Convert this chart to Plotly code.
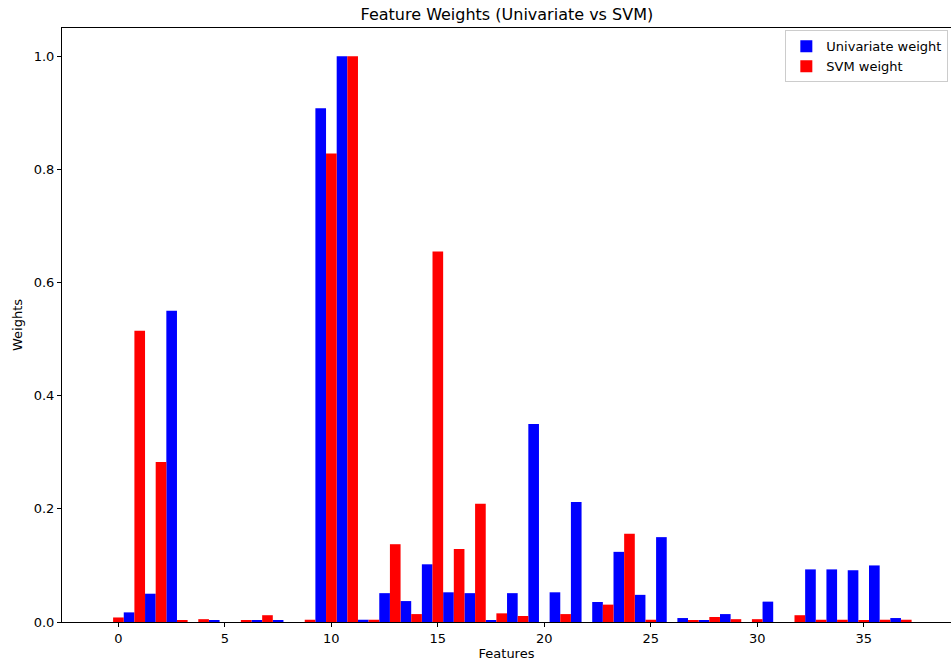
import plotly.graph_objects as go

features = list(range(38))

univariate_weight = [0.0, 0.017, 0.050, 0.550, 0.0, 0.002, 0.0, 0.002, 0.002, 0.0,
                     0.908, 1.0, 0.004, 0.051, 0.037, 0.102, 0.0525, 0.051, 0.002, 0.051,
                     0.350, 0.0525, 0.212, 0.0354, 0.124, 0.048, 0.150, 0.007, 0.002, 0.014,
                     0.0, 0.036, 0.0, 0.093, 0.093, 0.0915, 0.100, 0.007]

svm_weight = [0.008, 0.515, 0.283, 0.002, 0.005, 0.0, 0.002, 0.012, 0.0, 0.004,
              0.828, 1.0, 0.004, 0.1375, 0.014, 0.655, 0.129, 0.209, 0.0153, 0.0106,
              0.0, 0.014, 0.0, 0.0307, 0.156, 0.004, 0.0, 0.002, 0.0088, 0.005,
              0.005, 0.0, 0.012, 0.004, 0.004, 0.002, 0.004, 0.004]

x_ticks = [0, 5, 10, 15, 20, 25, 30, 35]
y_ticks = [0.0, 0.2, 0.4, 0.6, 0.8, 1.0]

FONT = "DejaVu Sans"

fig = go.Figure()
fig.add_trace(go.Bar(
    x=features, y=univariate_weight, name="Univariate weight",
    width=0.5, offset=-0.75,
    marker=dict(color="#0000ff", line=dict(width=0)),
))
fig.add_trace(go.Bar(
    x=features, y=svm_weight, name="SVM weight",
    width=0.5, offset=-0.25,
    marker=dict(color="#ff0000", line=dict(width=0)),
))

fig.update_layout(
    width=951, height=664,
    margin=dict(l=61.5, r=0, t=28, b=42),
    paper_bgcolor="white", plot_bgcolor="white",
    barmode="overlay",
    font=dict(family=FONT, size=13, color="black"),
    title=dict(text="Feature Weights (Univariate vs SVM)", x=0.533, xanchor="center",
               y=1 - 14 / 664, yanchor="middle", font=dict(size=16, family=FONT, color="black")),
    showlegend=True,
    legend=dict(x=0.997, y=0.996, xanchor="right", yanchor="top",
                bordercolor="#cccccc", borderwidth=1, bgcolor="white",
                tracegroupgap=0, itemwidth=30,
                font=dict(size=13, family=FONT), traceorder="normal"),
    xaxis=dict(range=[-2.65, 39.1], tickvals=x_ticks, ticktext=[str(t) for t in x_ticks],
               showgrid=False, zeroline=False, showline=True, linecolor="black", linewidth=1,
               mirror=True, ticks="outside", ticklen=4, tickcolor="black",
               title=dict(text="Features", font=dict(size=13), standoff=4)),
    yaxis=dict(range=[0, 1.05], tickvals=y_ticks, ticktext=[f"{t:.1f}" for t in y_ticks],
               showgrid=False, zeroline=False, showline=True, linecolor="black", linewidth=1,
               mirror=False, ticks="outside", ticklen=4, tickcolor="black",
               title=dict(text="Weights", font=dict(size=13), standoff=8)),
)

fig.write_html("out.html")
